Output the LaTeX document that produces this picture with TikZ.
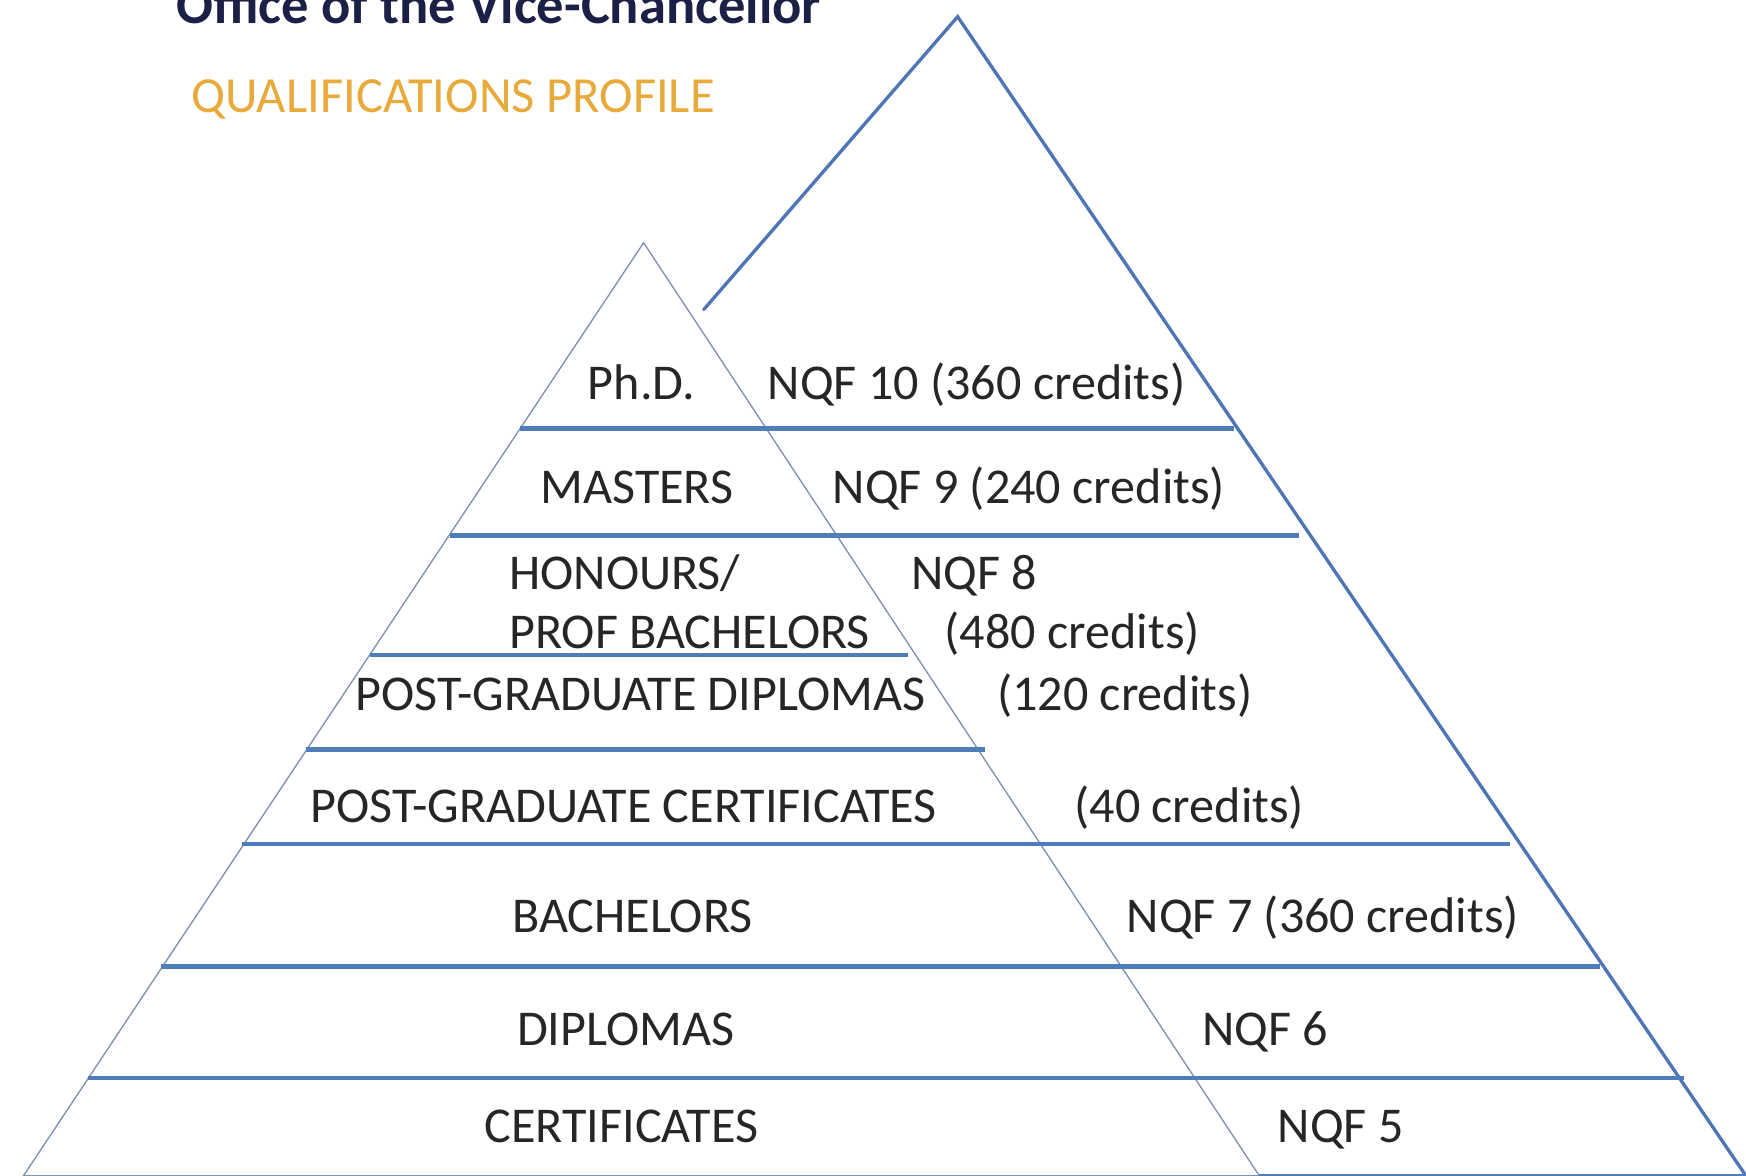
\documentclass[tikz,border=0pt]{standalone}
\usepackage{fontspec}
\setmainfont{Carlito}
\definecolor{bandblue}{RGB}{79,125,185}
\definecolor{edgeblue}{RGB}{78,118,180}
\definecolor{thinedge}{RGB}{125,145,180}
\definecolor{goldtxt}{RGB}{233,170,60}
\definecolor{navytxt}{RGB}{28,32,70}
\definecolor{bodytxt}{RGB}{38,38,38}
\tikzset{
  band/.style={draw=bandblue, line width=2pt},
  bigedge/.style={draw=edgeblue, line width=1.5pt, line cap=round},
  smalledge/.style={draw=thinedge, line width=0.6pt},
  lbl/.style={inner sep=0pt, anchor=base, text=bodytxt, font=\fontsize{22.5}{27}\selectfont},
  lblw/.style={lbl, anchor=base west}
}
\begin{document}
\begin{tikzpicture}[x=0.5pt, y=-0.5pt]
\useasboundingbox (0,0) rectangle (1568,1056);
\clip (0,0) rectangle (1568,1056);
\fill[white] (0,0) rectangle (1568,1056);

% header texts
\node[inner sep=0pt, anchor=base, text=navytxt, font=\fontsize{24.5}{29}\selectfont\bfseries] (office) at (448,21) {Office of the Vice-Chancellor};
\node[inner sep=0pt, anchor=base, text=goldtxt, font=\fontsize{22.7}{27}\selectfont] (qp) at (407,101) {QUALIFICATIONS PROFILE};

% key points
\coordinate (sA) at (578,218);
\coordinate (sL) at (21,1056);
\coordinate (sR) at (1131,1056);
\coordinate (bA) at (860,15);
\coordinate (bR) at (1568,1056);
\coordinate (bL) at (632,278);

% small triangle
\draw[smalledge] (sL) -- (sA) -- (sR) -- cycle;
% big triangle
\draw[bigedge] (bL) -- (bA) -- (bR);
\draw[band] (sR) -- (bR);

% horizontal bands
\coordinate (h1a) at (467,385);  \coordinate (h1b) at (1108,385);
\coordinate (h2a) at (404,481);  \coordinate (h2b) at (1167,481);
\coordinate (h3a) at (332,588);  \coordinate (h3b) at (815,588);
\coordinate (h4a) at (275,673);  \coordinate (h4b) at (885,673);
\coordinate (h5a) at (217,758);  \coordinate (h5b) at (1356,758);
\coordinate (h6a) at (145,868);  \coordinate (h6b) at (1437,868);
\coordinate (h7a) at (79,968);   \coordinate (h7b) at (1512,968);
\draw[band] (h1a) -- (h1b);
\draw[band] (h2a) -- (h2b);
\draw[band] (h3a) -- (h3b);
\draw[band] (h4a) -- (h4b);
\draw[band] (h5a) -- (h5b);
\draw[band] (h6a) -- (h6b);
\draw[band] (h7a) -- (h7b);

% labels
\node[lbl] (phd) at (576,359) {Ph.D.};
\node[lbl] (nqf10) at (877,359) {NQF 10 (360 credits)};
\node[lbl] (mas) at (572,452) {MASTERS};
\node[lbl] (nqf9) at (924,452) {NQF 9 (240 credits)};
\node[lblw] (hon) at (457,529) {HONOURS/};
\node[lblw] (prof) at (457,582) {PROF BACHELORS};
\node[lblw] (nqf8) at (818,529) {NQF 8};
\node[lblw] (c480) at (848,582) {(480 credits)};
\node[lbl] (pgd) at (575,638) {POST-GRADUATE DIPLOMAS};
\node[lbl] (c120) at (1010,638) {(120 credits)};
\node[lbl] (pgc) at (560,739) {POST-GRADUATE CERTIFICATES};
\node[lbl] (c40) at (1068,739) {(40 credits)};
\node[lbl] (bach) at (568,837) {BACHELORS};
\node[lbl] (nqf7) at (1188,837) {NQF 7 (360 credits)};
\node[lbl] (dip) at (562,939) {DIPLOMAS};
\node[lbl] (nqf6) at (1136,939) {NQF 6};
\node[lbl] (cert) at (558,1026) {CERTIFICATES};
\node[lbl] (nqf5) at (1204,1026) {NQF 5};
\end{tikzpicture}
\end{document}
